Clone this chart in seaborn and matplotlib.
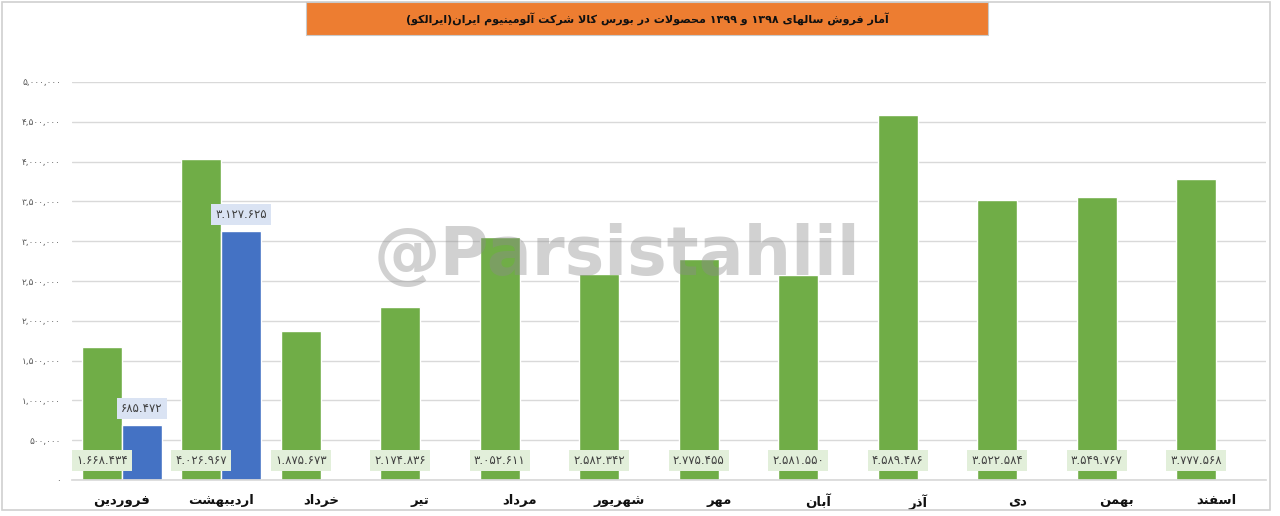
import numpy as np
import pandas as pd
import matplotlib
matplotlib.use("Agg")
import matplotlib.pyplot as plt
import seaborn as sns
from matplotlib.patches import Rectangle

# ---------------- data ----------------
months = ["فروردین", "اردیبهشت", "خرداد", "تیر", "مرداد", "شهریور",
          "مهر", "آبان", "آذر", "دی", "بهمن", "اسفند"]
sales_1398 = [1668434, 4026967, 1875673, 2174836, 3052611, 2582342,
              2775455, 2581550, 4589486, 3522584, 3549767, 3777568]
sales_1399 = [685472, 3127625, np.nan, np.nan, np.nan, np.nan,
              np.nan, np.nan, np.nan, np.nan, np.nan, np.nan]
years = ["1398", "1399"]
y_ticks = [0, 500000, 1000000, 1500000, 2000000, 2500000,
           3000000, 3500000, 4000000, 4500000, 5000000]
title_text = "آمار فروش سالهای ۱۳۹۸ و ۱۳۹۹ محصولات در بورس کالا شرکت آلومینیوم ایران(ایرالکو)"
watermark = "@Parsistahlil"

# ---------------- Arabic-script shaping (matplotlib has no shaping) ----------------
FORMS = {
    '\u0627': ('\uFE8D', '\uFE8E', None, None),
    '\u0622': ('\uFE81', '\uFE82', None, None),
    '\u0628': ('\uFE8F', '\uFE90', '\uFE91', '\uFE92'),
    '\u067E': ('\uFB56', '\uFB57', '\uFB58', '\uFB59'),
    '\u062A': ('\uFE95', '\uFE96', '\uFE97', '\uFE98'),
    '\u062B': ('\uFE99', '\uFE9A', '\uFE9B', '\uFE9C'),
    '\u062C': ('\uFE9D', '\uFE9E', '\uFE9F', '\uFEA0'),
    '\u0686': ('\uFB7A', '\uFB7B', '\uFB7C', '\uFB7D'),
    '\u062D': ('\uFEA1', '\uFEA2', '\uFEA3', '\uFEA4'),
    '\u062E': ('\uFEA5', '\uFEA6', '\uFEA7', '\uFEA8'),
    '\u062F': ('\uFEA9', '\uFEAA', None, None),
    '\u0630': ('\uFEAB', '\uFEAC', None, None),
    '\u0631': ('\uFEAD', '\uFEAE', None, None),
    '\u0632': ('\uFEAF', '\uFEB0', None, None),
    '\u0698': ('\uFB8A', '\uFB8B', None, None),
    '\u0633': ('\uFEB1', '\uFEB2', '\uFEB3', '\uFEB4'),
    '\u0634': ('\uFEB5', '\uFEB6', '\uFEB7', '\uFEB8'),
    '\u0635': ('\uFEB9', '\uFEBA', '\uFEBB', '\uFEBC'),
    '\u0636': ('\uFEBD', '\uFEBE', '\uFEBF', '\uFEC0'),
    '\u0637': ('\uFEC1', '\uFEC2', '\uFEC3', '\uFEC4'),
    '\u0638': ('\uFEC5', '\uFEC6', '\uFEC7', '\uFEC8'),
    '\u0639': ('\uFEC9', '\uFECA', '\uFECB', '\uFECC'),
    '\u063A': ('\uFECD', '\uFECE', '\uFECF', '\uFED0'),
    '\u0641': ('\uFED1', '\uFED2', '\uFED3', '\uFED4'),
    '\u0642': ('\uFED5', '\uFED6', '\uFED7', '\uFED8'),
    '\u06A9': ('\uFB8E', '\uFB8F', '\uFB90', '\uFB91'),
    '\u06AF': ('\uFB92', '\uFB93', '\uFB94', '\uFB95'),
    '\u0644': ('\uFEDD', '\uFEDE', '\uFEDF', '\uFEE0'),
    '\u0645': ('\uFEE1', '\uFEE2', '\uFEE3', '\uFEE4'),
    '\u0646': ('\uFEE5', '\uFEE6', '\uFEE7', '\uFEE8'),
    '\u0647': ('\uFEE9', '\uFEEA', '\uFEEB', '\uFEEC'),
    '\u0648': ('\uFEED', '\uFEEE', None, None),
    '\u06CC': ('\uFBFC', '\uFBFD', '\uFBFE', '\uFBFF'),
    '\u0626': ('\uFE89', '\uFE8A', '\uFE8B', '\uFE8C'),
}
LAMALEF = {'\u0627': ('\uFEFB', '\uFEFC'), '\u0622': ('\uFEF5', '\uFEF6')}
DIGITS = set("۰۱۲۳۴۵۶۷۸۹0123456789")
MIRROR = {'(': ')', ')': '('}


def _joins_next(c):
    return c in FORMS and FORMS[c][2] is not None


def shape(text):
    ch = list(text)
    n = len(ch)
    res = []
    i = 0
    while i < n:
        c = ch[i]
        if c not in FORMS:
            res.append(c)
            i += 1
            continue
        prev_join = i > 0 and _joins_next(ch[i - 1])
        if c == '\u0644' and i + 1 < n and ch[i + 1] in LAMALEF:
            iso, fin = LAMALEF[ch[i + 1]]
            res.append(fin if prev_join else iso)
            i += 2
            continue
        next_join = _joins_next(c) and i + 1 < n and ch[i + 1] in FORMS
        iso, fin, ini, med = FORMS[c]
        if prev_join and next_join:
            res.append(med)
        elif prev_join:
            res.append(fin)
        elif next_join:
            res.append(ini)
        else:
            res.append(iso)
        i += 1
    # visual order (RTL), digit runs stay LTR
    tokens = []
    for c in res:
        if c in DIGITS and tokens and tokens[-1][0] in DIGITS:
            tokens[-1] += c
        else:
            tokens.append(c)
    return "".join(MIRROR.get(t, t) for t in reversed(tokens))


FA = str.maketrans("0123456789", "۰۱۲۳۴۵۶۷۸۹")


def fa_num(v, sep="."):
    return f"{int(v):,}".replace(",", sep).translate(FA)


# ---------------- frame ----------------
df = pd.DataFrame({
    "month": months * 2,
    "year": [years[0]] * len(months) + [years[1]] * len(months),
    "value": sales_1398 + sales_1399,
})

sns.set_theme(style="white")
plt.rcParams["font.family"] = ["DejaVu Sans"]

fig = plt.figure(figsize=(12.8, 5.16), dpi=100)
ax = fig.add_axes([72 / 1280, 1 - 480 / 516, (1266 - 72) / 1280, (480 - 82) / 516])

green = "#70AD47"
blue = "#4472C4"
sns.barplot(data=df, x="month", y="value", hue="year", hue_order=years,
            order=months, palette=[green, blue], saturation=1, width=0.8,
            ax=ax, legend=False, zorder=2)

ax.set_ylim(0, 5000000)
ax.set_xlim(-0.5, len(months) - 0.5)
ax.set_yticks(y_ticks)
ax.set_yticklabels([fa_num(t, ",") for t in y_ticks], fontsize=6.5,
                   color="#595959")
ax.tick_params(axis="y", length=0, pad=8)
ax.set_xticks(range(len(months)))
ax.set_xticklabels([shape(m) for m in months], fontsize=9.5,
                   fontweight="bold", color="#111111")
ax.tick_params(axis="x", length=0, pad=10)
ax.grid(axis="y", color="#D9D9D9", linewidth=1, zorder=0)
ax.set_axisbelow(True)
for s in ["left", "right", "top"]:
    ax.spines[s].set_visible(False)
ax.spines["bottom"].set_color("#D9D9D9")
ax.set_xlabel("")
ax.set_ylabel("")

# value labels
green_bars = ax.containers[0]
blue_bars = ax.containers[1]
for bar, v in zip(green_bars, sales_1398):
    if np.isnan(v):
        continue
    ax.annotate(fa_num(v), (bar.get_x() + bar.get_width() / 2, 0),
                xytext=(0, 14), textcoords="offset points",
                ha="center", va="center", fontsize=8.5, color="#404040",
                zorder=5,
                bbox=dict(boxstyle="square,pad=0.35", fc="#E2EFDA", ec="none"))
for bar, v in zip(blue_bars, sales_1399):
    if np.isnan(v):
        continue
    ax.annotate(fa_num(v), (bar.get_x() + bar.get_width() / 2, v),
                xytext=(0, 12), textcoords="offset points",
                ha="center", va="center", fontsize=8.5, color="#404040",
                zorder=5,
                bbox=dict(boxstyle="square,pad=0.35", fc="#DAE3F3", ec="none"))

# watermark
fig.text(617 / 1280, 1 - 256 / 516, watermark, ha="center", va="center",
         fontsize=48, fontweight="bold", color="#8C8C8C", alpha=0.4, zorder=10)

# title box
fig.patches.append(Rectangle((306 / 1280, 1 - 35 / 516), (988 - 306) / 1280,
                             33 / 516, transform=fig.transFigure,
                             fc="#ED7D31", ec="#C9C9C9", lw=0.8, zorder=1))
fig.text(647 / 1280, 1 - 18.5 / 516, shape(title_text), ha="center",
         va="center", fontsize=8, fontweight="bold", color="#111111", zorder=3)

# outer frame
fig.patches.append(Rectangle((2 / 1280, 6 / 516), 1268 / 1280, 508 / 516,
                             transform=fig.transFigure, fc="none",
                             ec="#D0D0D0", lw=1.2, zorder=0))

fig.savefig("out.png", dpi=100)
